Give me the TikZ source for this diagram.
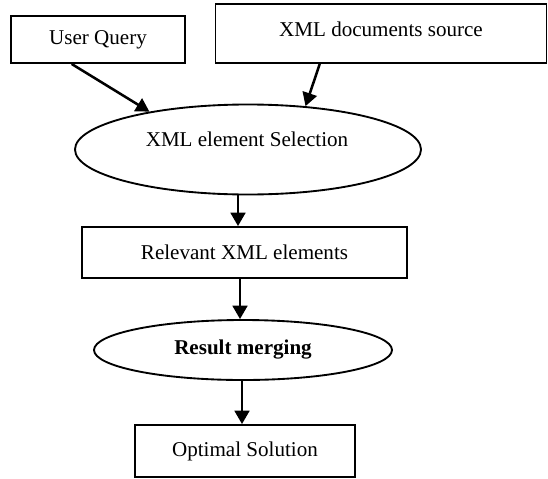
\documentclass[tikz,border=0pt]{standalone}
\usepackage{fontspec}
\setmainfont{Liberation Serif}
\usetikzlibrary{shapes.geometric,arrows.meta,calc}
\begin{document}
\begin{tikzpicture}[x=0.75pt,y=-0.75pt,
  font=\fontsize{15.8pt}{18pt}\selectfont,
  boxnode/.style={draw,line width=1.4pt,rectangle,inner sep=0pt},
  ellnode/.style={draw,line width=1.4pt,ellipse,inner sep=0pt},
  txt/.style={inner sep=0pt},
  arr/.style={line width=1.9pt,-{Triangle[length=10pt,width=11pt]}}]
\useasboundingbox (0,0) rectangle (548,478);
\node[boxnode,minimum width=174*0.75pt,minimum height=47*0.75pt] (uq) at (98,39.5) {User Query};
\node[boxnode,minimum width=331*0.75pt,minimum height=59*0.75pt] (xml) at (381,33.5) {};
\node[txt] (xmlt) at (381,29) {XML documents source};
\node[ellnode,minimum width=346*0.75pt,minimum height=90*0.75pt] (sel) at (248,149.5) {};
\node[txt] (selt) at (247,139) {XML element Selection};
\node[boxnode,minimum width=325*0.75pt,minimum height=51*0.75pt] (rel) at (244.5,252.5) {Relevant XML elements};
\node[ellnode,minimum width=298*0.75pt,minimum height=60*0.75pt] (res) at (243,350) {\textbf{Result merging}};
\node[boxnode,minimum width=220*0.75pt,minimum height=52*0.75pt] (opt) at (245,451) {Optimal Solution};
\draw[arr] ($(uq.south west)!0.35!(uq.south east)$) -- (sel.159);
\draw[arr] ($(xml.south west)!0.316!(xml.south east)$) -- (sel.37);
\draw[arr] ([xshift=-10*0.75pt]sel.south) -- ([xshift=-6.5*0.75pt]rel.north);
\draw[arr] ([xshift=-4.5*0.75pt]rel.south) -- ([xshift=-3*0.75pt]res.north);
\draw[arr] ([xshift=-1*0.75pt]res.south) -- ([xshift=-3*0.75pt]opt.north);
\end{tikzpicture}
\end{document}
